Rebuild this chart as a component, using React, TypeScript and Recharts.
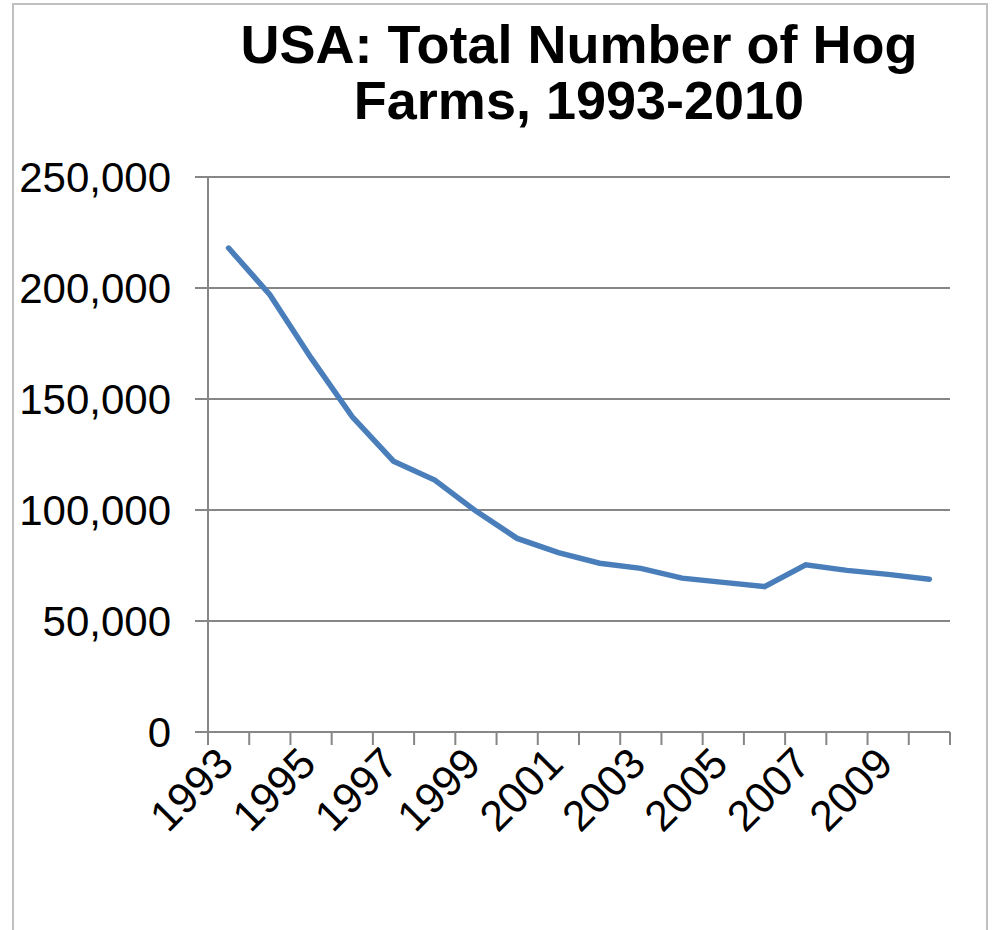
import { LineChart, Line, XAxis, YAxis, CartesianGrid } from 'recharts';

const YEARS = [
  '1993', '1994', '1995', '1996', '1997', '1998', '1999', '2000', '2001',
  '2002', '2003', '2004', '2005', '2006', '2007', '2008', '2009', '2010',
];

const HOG_FARMS = [
  218000, 197000, 168500, 142000, 122000, 113500, 99500, 87200, 80800,
  76000, 73700, 69300, 67400, 65500, 75300, 72800, 71000, 68800,
];

const Y_TICKS = [0, 50000, 100000, 150000, 200000, 250000];

const data = YEARS.map((year, i) => ({ year, farms: HOG_FARMS[i] }));

const FONT = '"Liberation Sans", Arial, sans-serif';
const AXIS_GRAY = '#868686';
// half of one category slot (plot is 742px wide, 18 years)
const HALF_BAND = 742 / YEARS.length / 2;

const formatNumber = (v: number) => v.toLocaleString('en-US');

function YearTick(props: any) {
  const { x, y, payload, index } = props;
  const isLast = index === YEARS.length - 1;
  const ax = x + 7;
  const ay = y + 34;
  return (
    <g>
      <line x1={x - HALF_BAND} x2={x - HALF_BAND} y1={y} y2={y + 13} stroke={AXIS_GRAY} strokeWidth={2} />
      {isLast && (
        <line x1={x + HALF_BAND} x2={x + HALF_BAND} y1={y} y2={y + 13} stroke={AXIS_GRAY} strokeWidth={2} />
      )}
      {index % 2 === 0 && (
        <text
          x={ax}
          y={ay}
          transform={`rotate(-45, ${ax}, ${ay})`}
          textAnchor="end"
          fontSize={43}
          fontFamily={FONT}
          fill="#000"
        >
          {payload.value}
        </text>
      )}
    </g>
  );
}

export default function App() {
  return (
    <div
      style={{
        position: 'absolute',
        left: 0,
        top: 0,
        width: 992,
        height: 930,
        overflow: 'hidden',
        background: '#fff',
      }}
    >
      <div
        style={{
          position: 'absolute',
          left: 12,
          top: 3,
          width: 972,
          height: 960,
          border: '2px solid #c0c0c0',
        }}
      />
      <div
        style={{
          position: 'absolute',
          left: 208,
          top: 16,
          width: 742,
          textAlign: 'center',
          fontFamily: FONT,
          fontWeight: 'bold',
          fontSize: 54,
          lineHeight: '56px',
          color: '#000',
        }}
      >
        USA: Total Number of Hog
        <br />
        Farms, 1993-2010
      </div>
      <div style={{ position: 'absolute', left: 0, top: 0 }}>
        <LineChart
          width={992}
          height={930}
          data={data}
          margin={{ top: 177, right: 42, left: 0, bottom: 0 }}
        >
          <CartesianGrid vertical={false} stroke={AXIS_GRAY} strokeWidth={2} />
          <XAxis
            dataKey="year"
            height={198}
            interval={0}
            padding={{ left: HALF_BAND, right: HALF_BAND }}
            tickLine={false}
            tickSize={0}
            tickMargin={0}
            axisLine={{ stroke: AXIS_GRAY, strokeWidth: 2 }}
            tick={<YearTick />}
          />
          <YAxis
            width={208}
            domain={[0, 250000]}
            ticks={Y_TICKS}
            tickFormatter={formatNumber}
            tickSize={13}
            tickMargin={24}
            tickLine={{ stroke: AXIS_GRAY, strokeWidth: 2 }}
            axisLine={{ stroke: AXIS_GRAY, strokeWidth: 2 }}
            tick={{ fill: '#000', fontSize: 42, fontFamily: FONT }}
          />
          <Line
            type="linear"
            dataKey="farms"
            stroke="#4A7EBB"
            strokeWidth={5.5}
            strokeLinecap="round"
            dot={false}
            isAnimationActive={false}
          />
        </LineChart>
      </div>
    </div>
  );
}
